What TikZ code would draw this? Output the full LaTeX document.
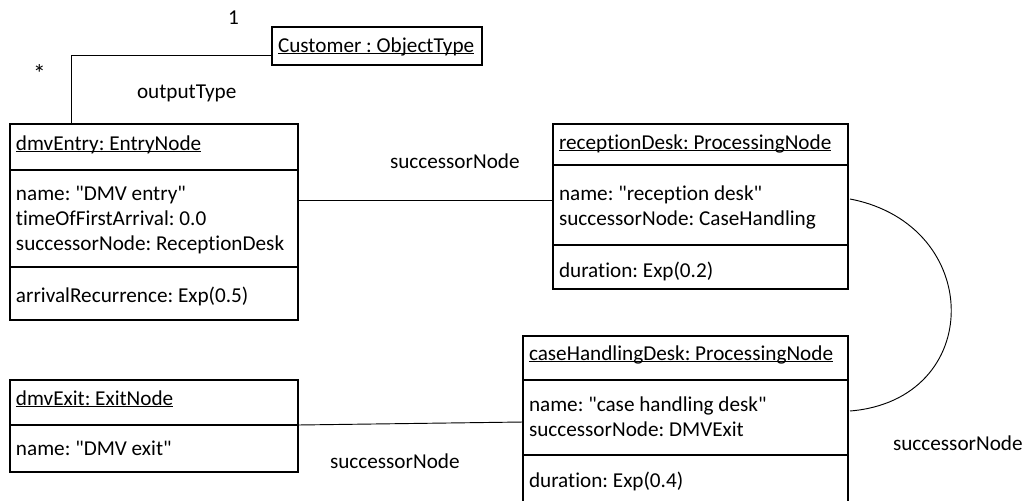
\documentclass[tikz,border=0pt]{standalone}
\usepackage{fontspec}
\setmainfont{Carlito}[Ligatures={TeXOff,NoCommon}]
\frenchspacing
\newcommand\myul[1]{\setbox0\hbox{#1}\rlap{\rule[-1.7pt]{\wd0}{0.6pt}}\box0}
\begin{document}
\begin{tikzpicture}[x=0.75pt,y=-0.75pt,
  every node/.style={font=\fontsize{15.9}{18.75}\selectfont},
  objbox/.style={draw,line width=1.3pt,rectangle,inner sep=0pt,outer sep=0pt,anchor=north west},
  txt/.style={anchor=base west,inner sep=0pt,outer sep=0pt},
  sep/.style={line width=1.3pt},
  conn/.style={line width=0.7pt}]
\useasboundingbox (0,0) rectangle (1024,500);
\clip (0,0) rectangle (1024,500);
% boxes
\node[objbox,minimum width=210*0.75pt,minimum height=38*0.75pt] (cust) at (272,27) {};
\node[objbox,minimum width=288*0.75pt,minimum height=196*0.75pt] (entry) at (10,124) {};
\node[objbox,minimum width=295*0.75pt,minimum height=165*0.75pt] (recep) at (553,124) {};
\node[objbox,minimum width=325*0.75pt,minimum height=170*0.75pt] (case) at (523,336) {};
\node[objbox,minimum width=288*0.75pt,minimum height=92*0.75pt] (exit) at (10,380) {};
% compartments
\draw[sep] (10,170) -- (298,170);
\draw[sep] (10,267) -- (298,267);
\draw[sep] (553,165) -- (848,165);
\draw[sep] (553,245) -- (848,245);
\draw[sep] (523,380) -- (848,380);
\draw[sep] (523,455) -- (848,455);
\draw[sep] (10,425) -- (298,425);
% texts
\node[txt] (custt) at (278,52) {\myul{Customer : ObjectType}};
\node[txt] (entryt) at (16,150) {\myul{dmvEntry: EntryNode}};
\node[txt] (entrya1) at (16,200) {name: "DMV entry"};
\node[txt] (entrya2) at (16,225) {timeOfFirstArrival: 0.0};
\node[txt] (entrya3) at (16,250) {successorNode: ReceptionDesk};
\node[txt] (entryo) at (16,302) {arrivalRecurrence: Exp(0.5)};
\node[txt] (recept) at (559,149) {\myul{receptionDesk: ProcessingNode}};
\node[txt] (recepa1) at (559,200) {name: "reception desk"};
\node[txt] (recepa2) at (559,225) {successorNode: CaseHandling};
\node[txt] (recepo) at (559,277) {duration: Exp(0.2)};
\node[txt] (caset) at (529,360) {\myul{caseHandlingDesk: ProcessingNode}};
\node[txt] (casea1) at (529,411) {name: "case handling desk"};
\node[txt] (casea2) at (529,436) {successorNode: DMVExit};
\node[txt] (caseo) at (529,487) {duration: Exp(0.4)};
\node[txt] (exitt) at (16,405) {\myul{dmvExit: ExitNode}};
\node[txt] (exita1) at (16,455) {name: "DMV exit"};
% labels
\node[txt] (lone) at (228,24) {1};
\node[txt] (lstar) at (33,82) {\fontsize{19}{20}\selectfont *};
\node[txt] (lout) at (137,98) {outputType};
\node[txt] (ls1) at (390,168) {successorNode};
\node[txt] (ls2) at (330,468) {successorNode};
\node[txt] (ls3) at (893,450) {successorNode};
% connectors
\coordinate (c55) at (71,55);
\coordinate (y200) at (0,200);
\coordinate (y200b) at (0,199);
\coordinate (y410) at (0,411);
\coordinate (y425) at (0,425);
\coordinate (y422) at (0,422);
\draw[conn] (entry.north west -| c55) -- (c55) -- (cust.west |- c55);
\draw[conn] (entry.east |- y200) -- (recep.west |- y200);
\draw[conn] ([xshift=1.5pt]recep.east |- y200b) .. controls (985,225) and (985,400) .. ([xshift=1.5pt]case.east |- y410);
\draw[conn] (exit.east |- y425) -- (case.west |- y422);
\end{tikzpicture}
\end{document}
